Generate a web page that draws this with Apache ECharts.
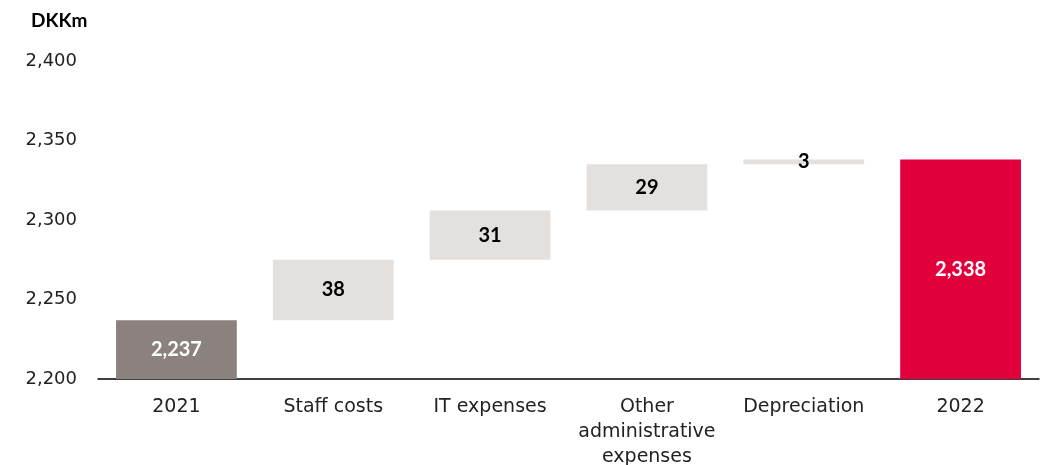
<!DOCTYPE html>
<html>
<head>
<meta charset="utf-8">
<script src="https://cdn.jsdelivr.net/npm/echarts@6/dist/echarts.min.js"></script>
<style>html,body{margin:0;padding:0;background:#fff}#c{width:1040px;height:465px}</style>
</head>
<body>
<div id="c"></div>
<script>
var categories = ['2021', 'Staff costs', 'IT expenses', 'Other\nadministrative\nexpenses', 'Depreciation', '2022'];
var values = [2237, 38, 31, 29, 3, 2338];
var kinds = ['total', 'delta', 'delta', 'delta', 'delta', 'total'];
var yTicks = [2200, 2250, 2300, 2350, 2400];

var AXIS_MIN = yTicks[0];
var colors = {total0: '#8b817e', delta: '#e3e0de', total1: '#e2003c'};

var base = [], shown = [], running = 0;
values.forEach(function (v, i) {
  if (kinds[i] === 'total') {
    base.push(AXIS_MIN);
    shown.push(v - AXIS_MIN);
    running = v;
  } else {
    base.push(running);
    shown.push(v);
    running += v;
  }
});

var axisFont = '"DejaVu Sans", sans-serif';
var boldFont = 'Lato, "DejaVu Sans", sans-serif';
var chart = echarts.init(document.getElementById('c'), null, {renderer: 'canvas'});
chart.setOption({
  animation: false,
  textStyle: {fontFamily: axisFont},
  title: {
    text: 'DKKm', left: 26, top: 6,
    textStyle: {fontFamily: boldFont, fontSize: 19, fontWeight: 'bold', color: '#000'}
  },
  grid: {left: 98, right: 1, top: 61, bottom: 86, containLabel: false, outerBoundsMode: 'none'},
  xAxis: {
    type: 'category', data: categories,
    axisLine: {lineStyle: {color: '#000', width: 1.5}},
    axisTick: {show: false},
    axisLabel: {
      interval: 0, hideOverlap: false,
      fontSize: 19, color: '#222', margin: 16, lineHeight: 25, fontFamily: axisFont
    }
  },
  yAxis: {
    type: 'value', min: yTicks[0], max: yTicks[yTicks.length - 1], interval: 50,
    axisLine: {show: false}, axisTick: {show: false}, splitLine: {show: false},
    axisLabel: {
      fontSize: 18, color: '#222', margin: 21, fontFamily: axisFont,
      formatter: function (v) { return v.toLocaleString('en-US'); }
    }
  },
  series: [
    {
      type: 'bar', stack: 'w', data: base, barWidth: '77%',
      itemStyle: {color: 'transparent'}, silent: true
    },
    {
      type: 'bar', stack: 'w', barWidth: '77%',
      data: shown.map(function (s, i) {
        var c = kinds[i] === 'delta' ? colors.delta : (i === 0 ? colors.total0 : colors.total1);
        return {
          value: s,
          itemStyle: {color: c},
          label: {color: kinds[i] === 'delta' ? '#000' : '#fff'}
        };
      }),
      label: {
        show: true, position: 'inside', fontSize: 20, fontWeight: 'bold', fontFamily: boldFont,
        formatter: function (p) { return values[p.dataIndex].toLocaleString('en-US'); }
      }
    }
  ]
});
</script>
</body>
</html>
